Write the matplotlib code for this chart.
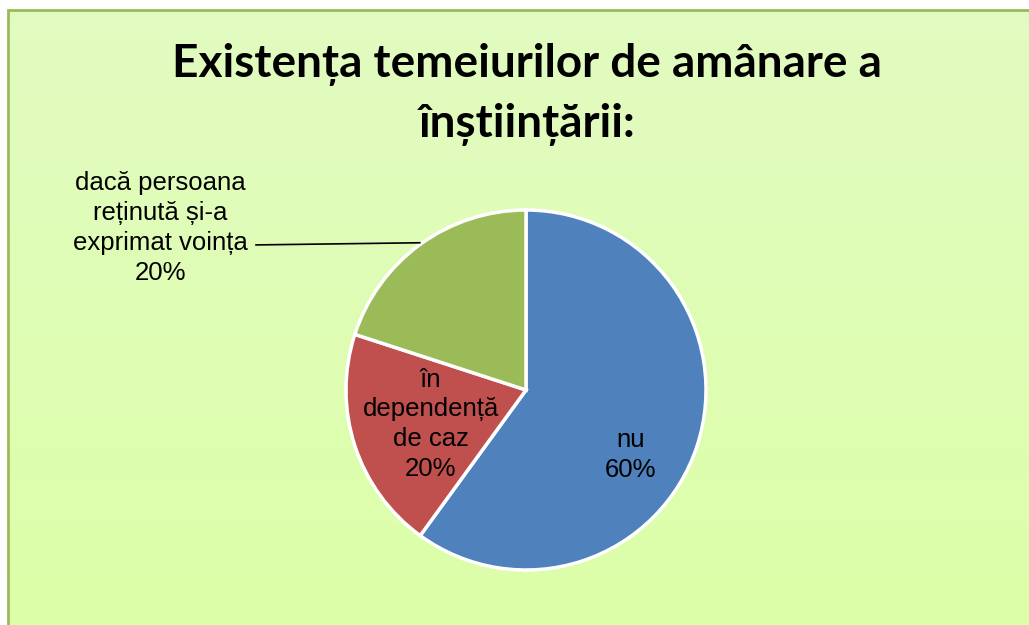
import numpy as np
import matplotlib
matplotlib.use('Agg')
import matplotlib.pyplot as plt
from matplotlib.patches import Rectangle

# Daten
categories = ['nu', 'în\ndependență\nde caz', 'dacă persoana\nreținută și-a\nexprimat voința']
values = [60, 20, 20]
colors = ['#4f81bd', '#c0504d', '#9bbb59']
title = 'Existența temeiurilor de amânare a\nînștiințării:'

W, H = 1029, 625
fig = plt.figure(figsize=(W / 100, H / 100), dpi=100)
fig.patch.set_facecolor('white')

# Hintergrund mit leichtem Farbverlauf
bg = fig.add_axes([8 / W, 0, 1 - 8 / W, 1 - 10 / H])
grad = np.linspace(0, 1, 256).reshape(-1, 1)
top = np.array([0.886, 0.984, 0.757])
bottom = np.array([0.863, 1.0, 0.659])
img = top + (bottom - top) * grad[:, :, None]
bg.imshow(img, aspect='auto', extent=[0, 1, 0, 1], origin='upper')
bg.set_xlim(0, 1)
bg.set_ylim(0, 1)
bg.axis('off')
fig.patches.append(Rectangle((8 / W, -0.01), 1.1, 1 - 10 / H + 0.01, transform=fig.transFigure,
                             fill=False, edgecolor='#9bbb59', linewidth=2, zorder=5))

fig.text(527 / W, 1 - 95 / H, title, ha='center', va='center', fontsize=33,
         fontweight='bold', family='Lato', linespacing=1.5)

# Kreisdiagramm
r = 180
ax = fig.add_axes([(526 - r) / W, (625 - 390 - r) / H, 2 * r / W, 2 * r / H])
wedges, _ = ax.pie(values, colors=colors, startangle=90, counterclock=False,
                   wedgeprops=dict(edgecolor='white', linewidth=2.5))
ax.set_xlim(-1, 1)
ax.set_ylim(-1, 1)
ax.set_aspect('equal')
ax.axis('off')

lab_font = dict(family='Liberation Sans', fontsize=18.5, ha='center', va='center', linespacing=1.3)
ax.text(0.58, -0.36, f'{categories[0]}\n{values[0]}%', **lab_font)
ax.text(-0.53, -0.19, f'{categories[1]}\n{values[1]}%', **lab_font)
ax.text(-2.03, 0.9, f'{categories[2]}\n{values[2]}%', clip_on=False, **lab_font)
ax.plot([-1.5, -0.59], [0.806, 0.818], color='black', linewidth=1.2, clip_on=False)

fig.savefig('out.png', dpi=100)
